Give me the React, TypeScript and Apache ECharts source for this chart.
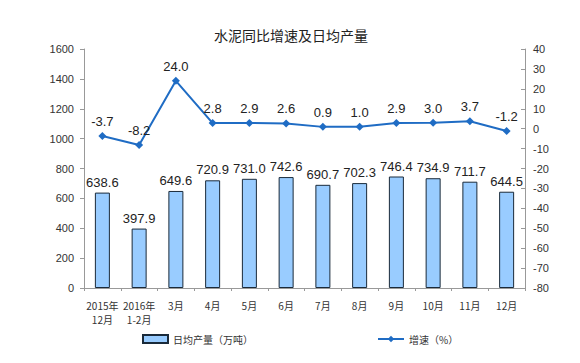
import React, { useEffect, useRef } from "react";
import * as echarts from "echarts";

const categories = ["2015年\n12月", "2016年\n1-2月", "3月", "4月", "5月", "6月", "7月", "8月", "9月", "10月", "11月", "12月"];
const dailyOutput = [638.6, 397.9, 649.6, 720.9, 731.0, 742.6, 690.7, 702.3, 746.4, 734.9, 711.7, 644.5];
const growth = [-3.7, -8.2, 24.0, 2.8, 2.9, 2.6, 0.9, 1.0, 2.9, 3.0, 3.7, -1.2];

export default function App() {
  const ref = useRef<HTMLDivElement>(null);
  useEffect(() => {
    if (!ref.current) return;
    const chart = echarts.init(ref.current, null, { renderer: "svg" });
    const font = "'Liberation Sans', 'Noto Sans CJK SC', sans-serif";
    const cjk = "'Noto Sans CJK SC', sans-serif";
    chart.setOption({
      animation: false,
      backgroundColor: "#fff",
      textStyle: { fontFamily: font },
      title: {
        text: "水泥同比增速及日均产量",
        left: 286,
        top: 23,
        textAlign: "center",
        textStyle: { fontSize: 14, fontWeight: "normal", color: "#222", fontFamily: cjk },
      },
      legend: [
        {
          data: [{ name: "日均产量（万吨）", icon: "rect" }],
          left: 137,
          top: 329,
          itemWidth: 25,
          itemHeight: 8,
          itemGap: 5,
          textStyle: { fontSize: 10, color: "#333", fontFamily: cjk },
        },
        {
          data: ["增速（%）"],
          left: 372,
          top: 329,
          itemWidth: 26,
          itemHeight: 8,
          textStyle: { fontSize: 10, color: "#333", fontFamily: cjk },
        },
      ],
      grid: { left: 84, right: 55, top: 49, bottom: 75, containLabel: false },
      xAxis: {
        type: "category",
        data: categories,
        axisLine: { lineStyle: { color: "#999", width: 1 } },
        axisTick: { show: true, length: 3, lineStyle: { color: "#999" } },
        axisLabel: { fontSize: 10, color: "#333", lineHeight: 14, margin: 10, interval: 0, fontFamily: cjk },
      },
      yAxis: [
        {
          type: "value",
          min: 0,
          max: 1600,
          interval: 200,
          axisLine: { show: true, lineStyle: { color: "#999" } },
          axisTick: { show: true, length: 4, lineStyle: { color: "#999" } },
          splitLine: { show: false },
          axisLabel: { fontSize: 11, color: "#333", margin: 10, formatter: (v: number) => String(v) },
        },
        {
          type: "value",
          min: -80,
          max: 40,
          interval: 10,
          position: "right",
          axisLine: { show: true, lineStyle: { color: "#999" } },
          axisTick: { show: true, inside: true, length: 4, lineStyle: { color: "#999" } },
          splitLine: { show: false },
          axisLabel: { fontSize: 11, color: "#333", margin: 8, formatter: (v: number) => String(v) },
        },
      ],
      series: [
        {
          name: "日均产量（万吨）",
          type: "bar",
          data: dailyOutput,
          barWidth: 15,
          itemStyle: { color: "#99CCFF", borderColor: "#1a2a3a", borderWidth: 1 },
          label: {
            show: true,
            position: "top",
            distance: 4,
            fontSize: 13,
            color: "#222",
            formatter: (p: any) => p.value.toFixed(1),
          },
        },
        {
          name: "增速（%）",
          type: "line",
          yAxisIndex: 1,
          data: growth,
          symbol: "diamond",
          symbolSize: 8,
          lineStyle: { color: "#1F6CC4", width: 2 },
          itemStyle: { color: "#1F6CC4" },
          label: {
            show: true,
            position: ["50%", -4],
            align: "center",
            verticalAlign: "bottom",
            fontSize: 13,
            color: "#222",
            formatter: (p: any) => p.value.toFixed(1),
          },
        },
      ],
    });
    return () => chart.dispose();
  }, []);
  return <div ref={ref} style={{ width: 580, height: 363, position: "absolute", left: 0, top: 0 }} />;
}
